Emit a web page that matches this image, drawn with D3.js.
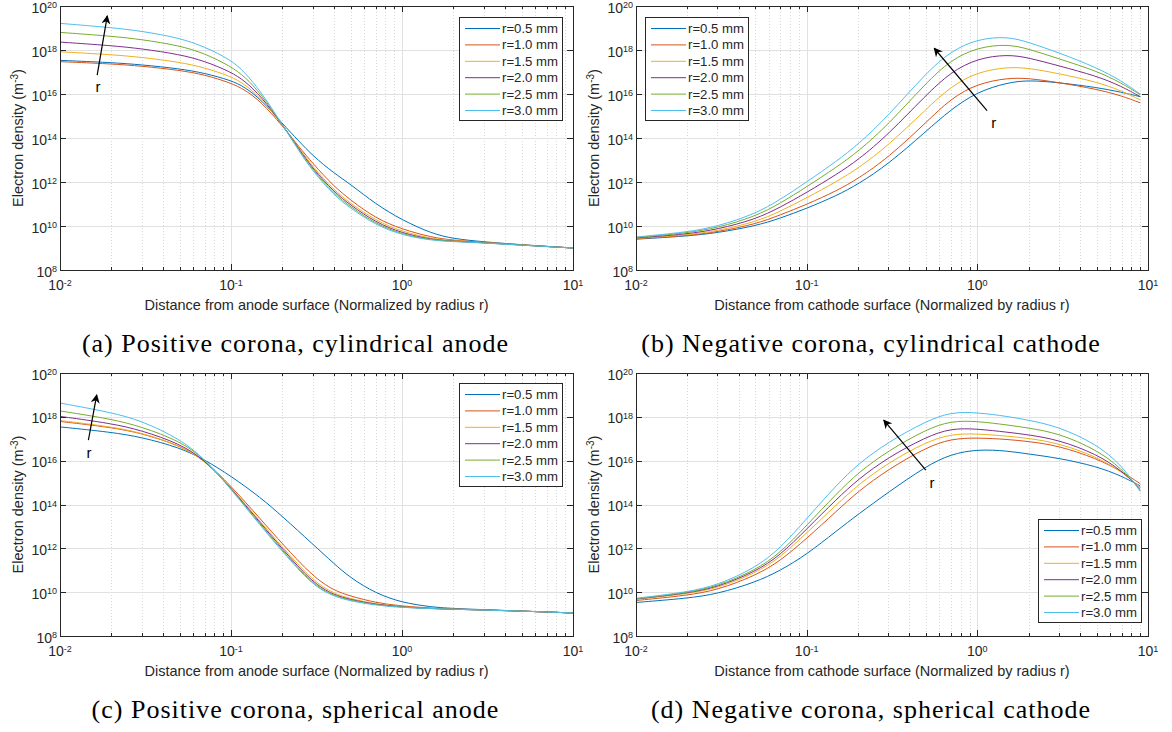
<!DOCTYPE html>
<html>
<head>
<meta charset="utf-8">
<script src="https://cdn.jsdelivr.net/npm/d3@7"></script>
<style>
  body { margin: 0; background: #fff; }
  text { font-family: "Liberation Sans", Arial, sans-serif; fill: #262626; }
  .cap { font-family: "Liberation Serif", "Times New Roman", serif; fill: #000; }
</style>
</head>
<body>
<div id="chart"></div>
<script>
/*
  data: exponents of the electron density (log10, m^-3)
*/
var seriesNames = ["r=0.5 mm", "r=1.0 mm", "r=1.5 mm", "r=2.0 mm", "r=2.5 mm", "r=3.0 mm"];
var colors = ["#0072BD", "#D95319", "#EDB120", "#7E2F8E", "#77AC30", "#4DBEEE"];
var yTickExps = [8, 10, 12, 14, 16, 18, 20];
var xTickExps = [-2, -1, 0, 1];

// (a) positive corona, cylindrical anode
var distA = [0.01, 0.02, 0.03, 0.05, 0.07, 0.1, 0.12, 0.15, 0.2, 0.25, 0.3, 0.4, 0.5, 0.7, 1, 1.5, 2, 3, 5, 10];
var expA = [
  [17.53, 17.43, 17.33, 17.15, 16.95, 16.62, 16.32, 15.75, 14.65, 13.85, 13.20, 12.40, 11.90, 11.00, 10.27, 9.65, 9.42, 9.28, 9.15, 9.00],
  [17.47, 17.37, 17.27, 17.08, 16.88, 16.50, 16.20, 15.65, 14.55, 13.60, 12.85, 11.80, 11.18, 10.35, 9.85, 9.48, 9.35, 9.26, 9.14, 9.00],
  [17.92, 17.79, 17.67, 17.45, 17.20, 16.80, 16.45, 15.80, 14.60, 13.55, 12.70, 11.63, 11.03, 10.25, 9.74, 9.42, 9.33, 9.25, 9.14, 9.00],
  [18.36, 18.20, 18.06, 17.80, 17.50, 17.00, 16.60, 15.90, 14.60, 13.50, 12.62, 11.55, 10.95, 10.17, 9.67, 9.38, 9.31, 9.24, 9.13, 9.00],
  [18.80, 18.63, 18.48, 18.20, 17.85, 17.25, 16.80, 16.00, 14.60, 13.45, 12.56, 11.47, 10.87, 10.10, 9.62, 9.36, 9.30, 9.24, 9.13, 9.00],
  [19.21, 19.02, 18.86, 18.55, 18.15, 17.55, 17.00, 16.10, 14.60, 13.40, 12.50, 11.40, 10.80, 10.05, 9.58, 9.34, 9.29, 9.23, 9.13, 9.00]
];

// (b) negative corona, cylindrical cathode
var distB = [0.01, 0.02, 0.03, 0.05, 0.07, 0.1, 0.15, 0.2, 0.3, 0.5, 0.7, 1, 1.5, 2, 3, 5, 7, 9];
var expB = [
  [9.40, 9.54, 9.69, 10.00, 10.35, 10.80, 11.38, 11.90, 12.80, 14.30, 15.30, 16.10, 16.52, 16.63, 16.52, 16.30, 16.08, 15.88],
  [9.42, 9.56, 9.73, 10.08, 10.50, 10.98, 11.60, 12.15, 13.10, 14.70, 15.80, 16.47, 16.73, 16.72, 16.52, 16.22, 15.92, 15.60],
  [9.44, 9.59, 9.78, 10.18, 10.66, 11.28, 12.02, 12.62, 13.65, 15.30, 16.35, 17.00, 17.23, 17.18, 16.93, 16.55, 16.15, 15.73],
  [9.46, 9.63, 9.85, 10.30, 10.85, 11.52, 12.35, 13.00, 14.15, 15.95, 17.00, 17.62, 17.80, 17.65, 17.28, 16.82, 16.35, 15.88],
  [9.48, 9.68, 9.92, 10.43, 11.03, 11.78, 12.68, 13.38, 14.60, 16.50, 17.55, 18.12, 18.27, 18.05, 17.60, 17.05, 16.50, 15.97],
  [9.50, 9.72, 9.98, 10.55, 11.20, 12.00, 12.95, 13.70, 15.00, 16.95, 17.95, 18.50, 18.62, 18.35, 17.88, 17.20, 16.60, 16.00]
];

// (c) positive corona, spherical anode
var distC = [0.01, 0.02, 0.03, 0.05, 0.07, 0.1, 0.15, 0.2, 0.3, 0.4, 0.5, 0.7, 1, 1.5, 2, 5, 10];
var expC = [
  [17.54, 17.30, 17.07, 16.60, 16.05, 15.30, 14.30, 13.45, 12.20, 11.30, 10.65, 9.95, 9.52, 9.32, 9.25, 9.14, 9.05],
  [17.79, 17.52, 17.25, 16.70, 16.03, 14.85, 13.30, 12.20, 10.72, 10.07, 9.82, 9.52, 9.36, 9.27, 9.23, 9.14, 9.05],
  [17.83, 17.55, 17.27, 16.70, 16.02, 14.78, 13.18, 12.05, 10.52, 9.93, 9.70, 9.46, 9.33, 9.26, 9.22, 9.14, 9.05],
  [18.02, 17.70, 17.38, 16.78, 16.05, 14.75, 13.12, 11.97, 10.42, 9.87, 9.66, 9.44, 9.32, 9.25, 9.22, 9.14, 9.05],
  [18.27, 17.90, 17.55, 16.90, 16.10, 14.72, 13.05, 11.90, 10.35, 9.83, 9.63, 9.42, 9.31, 9.25, 9.22, 9.14, 9.05],
  [18.63, 18.20, 17.82, 17.00, 16.10, 14.70, 13.00, 11.85, 10.30, 9.80, 9.60, 9.40, 9.30, 9.25, 9.22, 9.14, 9.05]
];

// (d) negative corona, spherical cathode
var distD = [0.01, 0.02, 0.03, 0.05, 0.07, 0.1, 0.15, 0.2, 0.3, 0.5, 0.7, 1, 1.5, 2, 3, 5, 7, 9];
var expD = [
  [9.53, 9.72, 9.92, 10.45, 10.98, 11.72, 12.80, 13.55, 14.55, 15.75, 16.30, 16.52, 16.45, 16.30, 16.12, 15.74, 15.30, 14.85],
  [9.62, 9.85, 10.10, 10.75, 11.42, 12.45, 13.70, 14.60, 15.60, 16.60, 17.00, 17.05, 16.97, 16.88, 16.68, 16.10, 15.52, 14.95],
  [9.67, 9.92, 10.18, 10.86, 11.58, 12.70, 14.00, 14.90, 15.90, 16.85, 17.22, 17.23, 17.12, 17.02, 16.80, 16.18, 15.50, 14.80],
  [9.69, 9.95, 10.23, 10.93, 11.68, 12.88, 14.25, 15.15, 16.15, 17.08, 17.48, 17.45, 17.30, 17.18, 16.95, 16.30, 15.55, 14.72],
  [9.70, 9.97, 10.27, 11.00, 11.78, 13.05, 14.50, 15.45, 16.45, 17.42, 17.82, 17.80, 17.63, 17.49, 17.25, 16.50, 15.65, 14.65],
  [9.72, 10.00, 10.32, 11.10, 12.00, 13.35, 14.90, 15.85, 16.85, 17.80, 18.22, 18.20, 18.02, 17.85, 17.55, 16.75, 15.80, 14.60]
];

// "r" arrows, in data units: [tail, head, label]
var arrowA = [[0.0165, 16.86], [0.0189, 19.55], [0.0167, 16.3]];
var arrowB = [[1.14, 15.24], [0.559, 18.08], [1.25, 14.7]];
var arrowC = [[0.01466, 16.94], [0.0164, 19.0], [0.0148, 16.35]];
var arrowD = [[0.499, 15.57], [0.283, 17.85], [0.542, 15.0]];

var panels = [
  { dist: distA, exps: expA, arrow: arrowA, l: 60, r: 573, t: 6, b: 270, legend: [459, 17],
    xlabel: "Distance from anode surface (Normalized by radius r)",
    caption: "(a) Positive corona, cylindrical anode" },
  { dist: distB, exps: expB, arrow: arrowB, l: 636, r: 1148, t: 6, b: 270, legend: [645, 17],
    xlabel: "Distance from cathode surface (Normalized by radius r)",
    caption: "(b) Negative corona, cylindrical cathode" },
  { dist: distC, exps: expC, arrow: arrowC, l: 60, r: 573, t: 373, b: 636, legend: [459, 383],
    xlabel: "Distance from anode surface (Normalized by radius r)",
    caption: "(c) Positive corona, spherical anode" },
  { dist: distD, exps: expD, arrow: arrowD, l: 636, r: 1148, t: 373, b: 636, legend: [1038, 519],
    xlabel: "Distance from cathode surface (Normalized by radius r)",
    caption: "(d) Negative corona, spherical cathode" }
];

var svg = d3.select('#chart').append('svg')
  .attr('width', 1172).attr('height', 732);

svg.append('defs').append('marker')
  .attr('id', 'head').attr('viewBox', '0 0 10 10')
  .attr('refX', 9).attr('refY', 5)
  .attr('markerWidth', 9).attr('markerHeight', 9)
  .attr('markerUnits', 'userSpaceOnUse')
  .attr('orient', 'auto')
  .append('path').attr('d', 'M0,0 L10,5 L0,10 L3,5 z').attr('fill', '#000');

function supLabel(sel, exp) {
  sel.append('tspan').text('10');
  sel.append('tspan').attr('dy', -4.5).attr('font-size', 9).text(exp);
}

function draw(p) {
  var g = svg.append('g');
  var x = d3.scaleLog().domain([0.01, 10]).range([p.l, p.r]);
  var y = d3.scaleLog().domain([1e8, 1e20]).range([p.b, p.t]);

  // minor x grid (dotted) and ticks
  var minor = [];
  xTickExps.slice(0, 3).forEach(function(e) {
    for (var k = 2; k <= 9; k++) minor.push(k * Math.pow(10, e));
  });
  g.selectAll('.mg').data(minor).enter().append('line')
    .attr('x1', function(d) { return Math.round(x(d)) + 0.5; })
    .attr('x2', function(d) { return Math.round(x(d)) + 0.5; })
    .attr('y1', p.t).attr('y2', p.b)
    .attr('stroke', '#c8c8c8').attr('stroke-width', 0.7).attr('stroke-dasharray', '1,2');

  // major grid
  g.selectAll('.gx').data(xTickExps.slice(1, 3)).enter().append('line')
    .attr('x1', function(d) { return Math.round(x(Math.pow(10, d))) + 0.5; })
    .attr('x2', function(d) { return Math.round(x(Math.pow(10, d))) + 0.5; })
    .attr('y1', p.t).attr('y2', p.b)
    .attr('stroke', '#e1e1e1').attr('stroke-width', 1);
  g.selectAll('.gy').data(yTickExps.slice(1, -1)).enter().append('line')
    .attr('y1', function(d) { return Math.round(y(Math.pow(10, d))) + 0.5; })
    .attr('y2', function(d) { return Math.round(y(Math.pow(10, d))) + 0.5; })
    .attr('x1', p.l).attr('x2', p.r)
    .attr('stroke', '#e1e1e1').attr('stroke-width', 1);

  // curves
  var line = d3.line()
    .x(function(d) { return x(d[0]); })
    .y(function(d) { return y(d[1]); })
    .curve(d3.curveBasis);
  p.exps.forEach(function(row, i) {
    var pts = row.map(function(v, j) { return [p.dist[j], Math.pow(10, v)]; });
    g.append('path').datum(pts)
      .attr('d', line)
      .attr('fill', 'none')
      .attr('stroke', colors[i])
      .attr('stroke-width', 1);
  });

  // axes box and ticks
  var ax = g.append('g').attr('stroke', '#262626').attr('stroke-width', 1).attr('shape-rendering', 'crispEdges');
  ax.append('rect').attr('x', p.l + 0.5).attr('y', p.t + 0.5)
    .attr('width', p.r - p.l).attr('height', p.b - p.t).attr('fill', 'none');
  xTickExps.forEach(function(e) {
    var xx = Math.round(x(Math.pow(10, e))) + 0.5;
    ax.append('line').attr('x1', xx).attr('x2', xx).attr('y1', p.b).attr('y2', p.b - 6);
    ax.append('line').attr('x1', xx).attr('x2', xx).attr('y1', p.t).attr('y2', p.t + 6);
  });
  minor.forEach(function(d) {
    var xx = Math.round(x(d)) + 0.5;
    ax.append('line').attr('x1', xx).attr('x2', xx).attr('y1', p.b).attr('y2', p.b - 3);
    ax.append('line').attr('x1', xx).attr('x2', xx).attr('y1', p.t).attr('y2', p.t + 3);
  });
  yTickExps.forEach(function(e) {
    var yy = Math.round(y(Math.pow(10, e))) + 0.5;
    ax.append('line').attr('y1', yy).attr('y2', yy).attr('x1', p.l).attr('x2', p.l + 6);
    ax.append('line').attr('y1', yy).attr('y2', yy).attr('x1', p.r).attr('x2', p.r - 6);
  });

  // tick labels
  yTickExps.forEach(function(e) {
    var t = g.append('text').attr('x', p.l - 3).attr('y', y(Math.pow(10, e)) + 6.5)
      .attr('text-anchor', 'end').attr('font-size', 14);
    supLabel(t, e);
  });
  xTickExps.forEach(function(e) {
    var t = g.append('text').attr('x', x(Math.pow(10, e))).attr('y', p.b + 20)
      .attr('text-anchor', 'middle').attr('font-size', 14);
    supLabel(t, e);
  });

  // axis labels
  g.append('text').attr('x', (p.l + p.r) / 2).attr('y', p.b + 39.5)
    .attr('text-anchor', 'middle').attr('font-size', 14.5).text(p.xlabel);
  var yl = g.append('text')
    .attr('transform', 'translate(' + (p.l - 37) + ',' + ((p.t + p.b) / 2) + ') rotate(-90)')
    .attr('text-anchor', 'middle').attr('font-size', 14.5);
  yl.append('tspan').text('Electron density (m');
  yl.append('tspan').attr('dy', -5).attr('font-size', 10).text('-3');
  yl.append('tspan').attr('dy', 5).text(')');

  // arrow
  var a = p.arrow;
  g.append('line')
    .attr('x1', x(a[0][0])).attr('y1', y(Math.pow(10, a[0][1])))
    .attr('x2', x(a[1][0])).attr('y2', y(Math.pow(10, a[1][1])))
    .attr('stroke', '#000').attr('stroke-width', 1.2)
    .attr('marker-end', 'url(#head)');
  g.append('text').attr('x', x(a[2][0])).attr('y', y(Math.pow(10, a[2][1])) + 5)
    .attr('text-anchor', 'middle').attr('font-size', 15).style('fill', '#000').text('r');

  // legend
  var lg = g.append('g').attr('transform', 'translate(' + p.legend[0] + ',' + p.legend[1] + ')');
  lg.append('rect').attr('x', 0.5).attr('y', 0.5).attr('width', 103).attr('height', 103)
    .attr('fill', '#fff').attr('stroke', '#262626').attr('stroke-width', 1)
    .attr('shape-rendering', 'crispEdges');
  seriesNames.forEach(function(n, i) {
    var ly = 11.5 + i * 16.4;
    lg.append('line').attr('x1', 6).attr('x2', 41).attr('y1', ly).attr('y2', ly)
      .attr('stroke', colors[i]).attr('stroke-width', 1);
    lg.append('text').attr('x', 43).attr('y', ly + 4.5).attr('font-size', 13.2).text(n);
  });

  // caption
  g.append('text').attr('class', 'cap').attr('x', (p.l + p.r) / 2 - 21).attr('y', p.b + 82)
    .attr('text-anchor', 'middle').attr('font-size', 26).attr('letter-spacing', 1)
    .text(p.caption);
}

panels.forEach(draw);
</script>
</body>
</html>
